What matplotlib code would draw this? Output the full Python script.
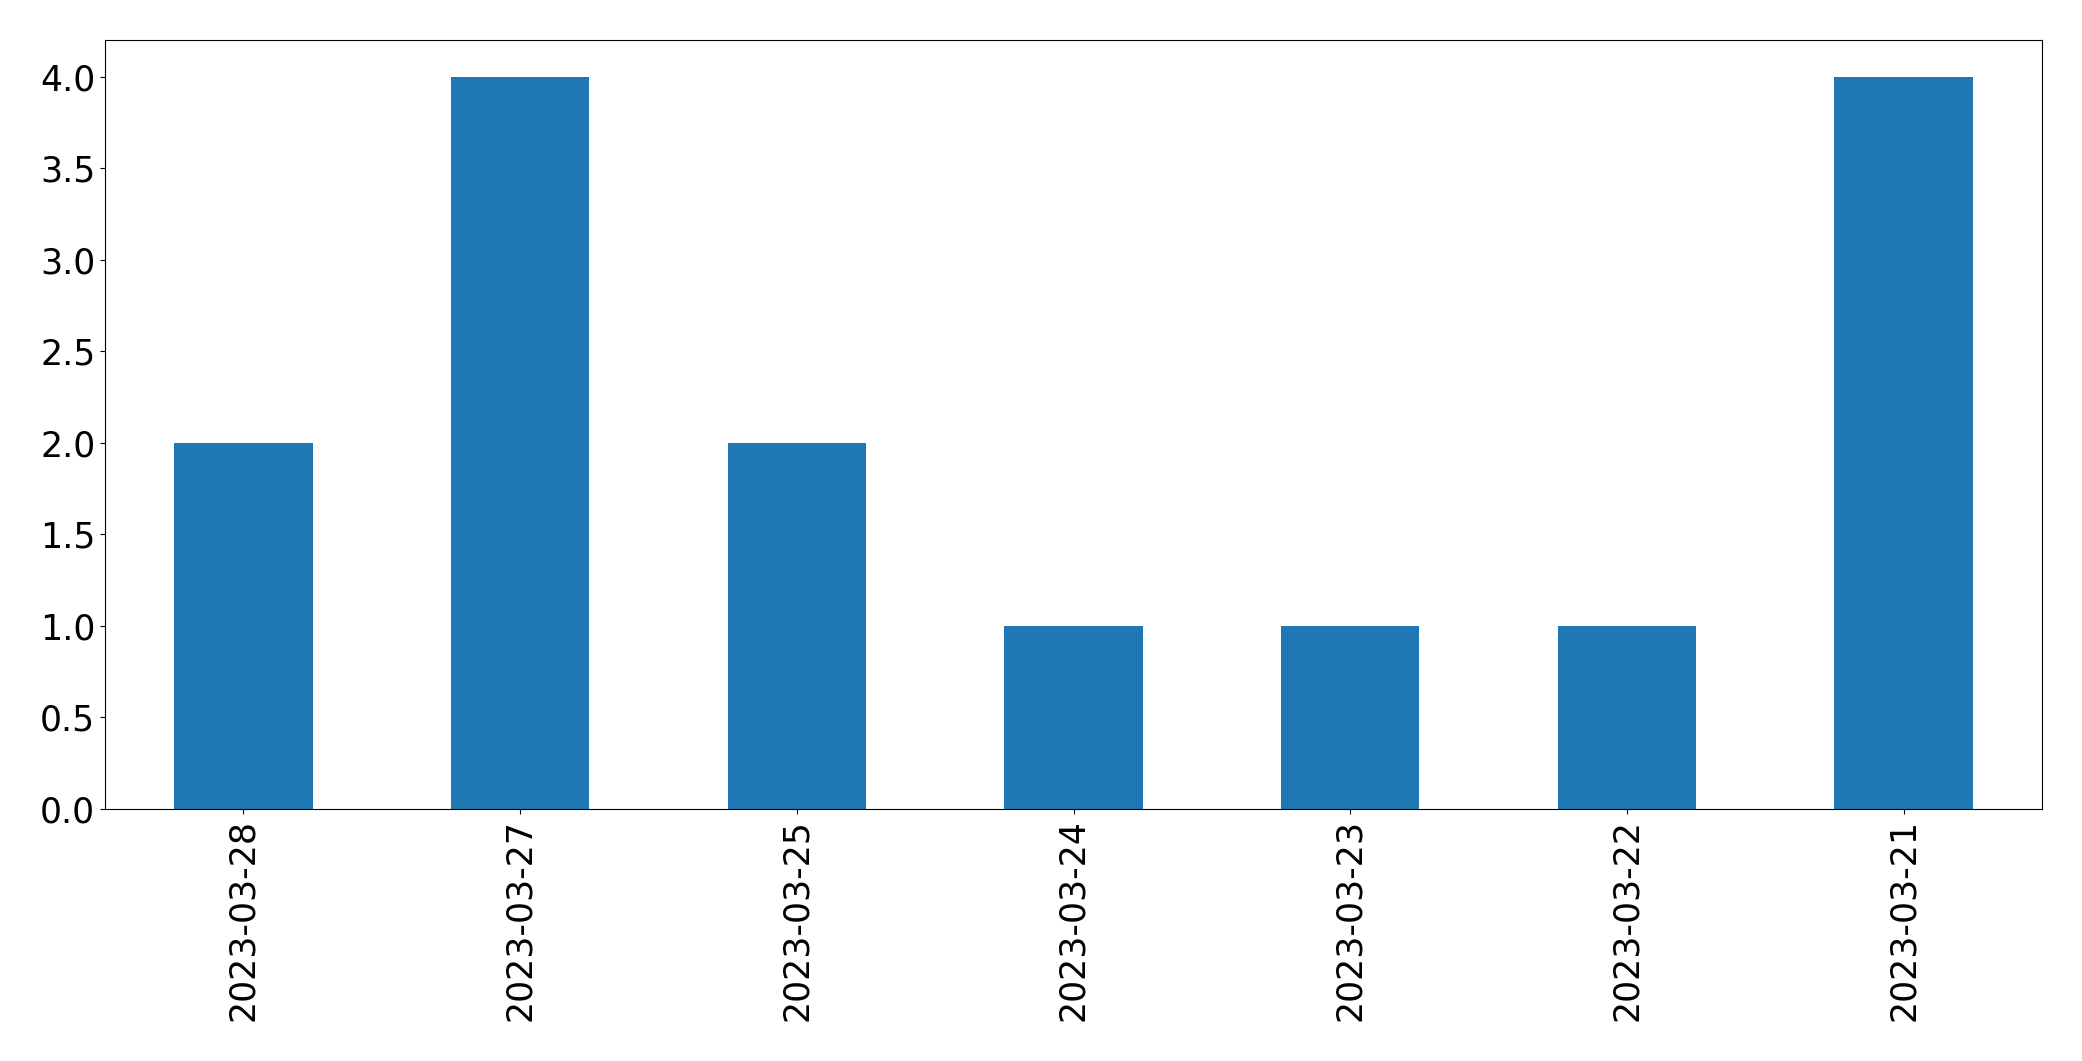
import matplotlib
matplotlib.use("Agg")
import matplotlib.pyplot as plt
import pandas as pd

dates = ["2023-03-28", "2023-03-27", "2023-03-25", "2023-03-24",
         "2023-03-23", "2023-03-22", "2023-03-21"]
counts = [2, 4, 2, 1, 1, 1, 4]

W, H = 2082, 1061
fig = plt.figure(figsize=(W / 100, H / 100), dpi=100)
ax = fig.add_axes([105 / W, 1 - 809 / H, (2042 - 105) / W, (809 - 40) / H])

s = pd.Series(counts, index=dates)
s.plot(kind="bar", ax=ax, color="#1f77b4", width=0.5)
ax.tick_params(axis="both", labelsize=25)
ax.set_xlabel("")

fig.savefig("out.png", dpi=100)
